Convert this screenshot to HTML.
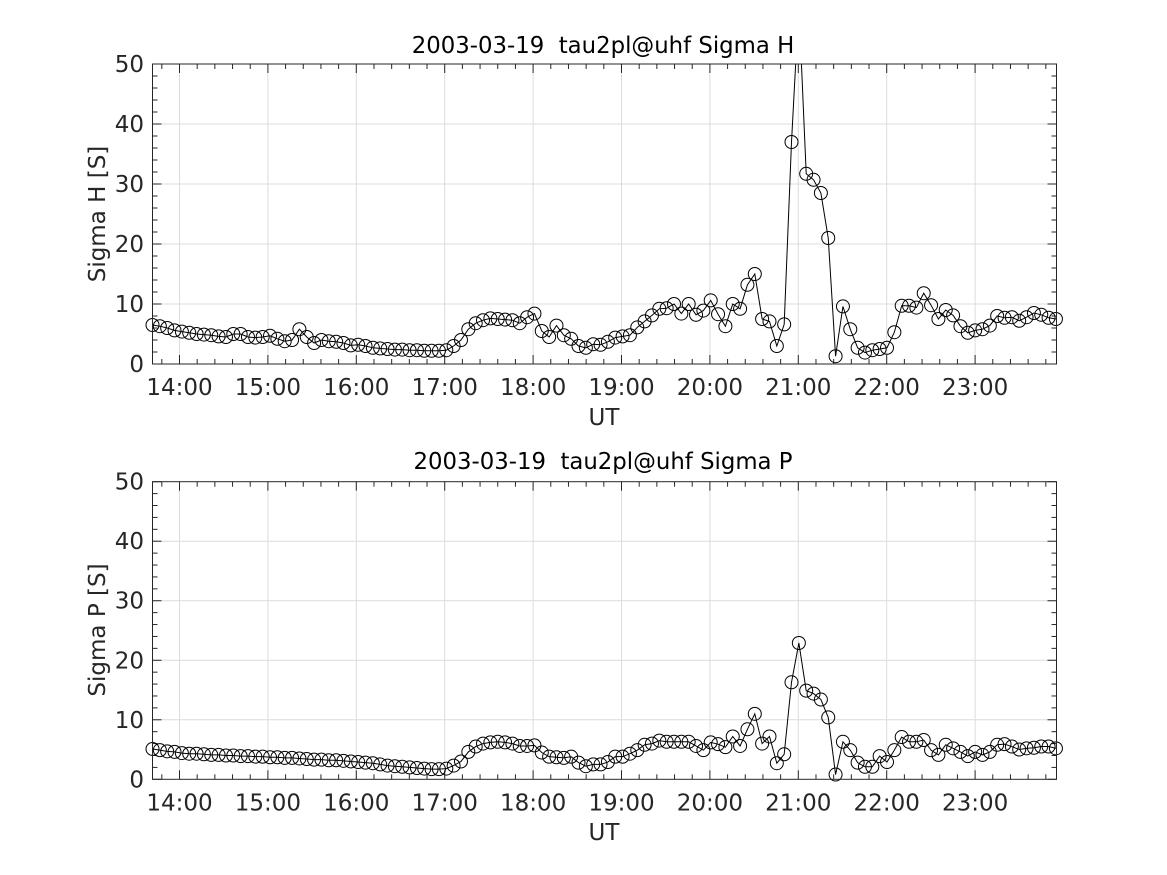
<!DOCTYPE html>
<html><head><meta charset="utf-8">
<style>
html,body{margin:0;padding:0;background:#fff;}
svg{display:block;font-family:"DejaVu Sans","Liberation Sans",sans-serif;}
text{white-space:pre;}
</style></head>
<body>
<svg id="s" width="1167" height="875" viewBox="0 0 1167 875" xmlns="http://www.w3.org/2000/svg" xml:space="preserve">
<rect width="1167" height="875" fill="#fff"/>
<text x="603" y="53" font-size="22.8" text-anchor="middle" fill="#000">2003-03-19  tau2pl@uhf Sigma H</text>
<text x="603" y="469" font-size="22.8" text-anchor="middle" fill="#000">2003-03-19  tau2pl@uhf Sigma P</text>
<text x="604" y="425" font-size="23" text-anchor="middle" fill="#262626">UT</text>
<text x="604" y="840" font-size="23" text-anchor="middle" fill="#262626">UT</text>
<text transform="translate(105,214) rotate(-90)" font-size="23" text-anchor="middle" fill="#262626">Sigma H [S]</text>
<text transform="translate(105,630) rotate(-90)" font-size="23" text-anchor="middle" fill="#262626">Sigma P [S]</text>
<g id="g"></g>
</svg>
<script>
var H=[6.5,6.3,6.0,5.6,5.4,5.2,5.0,4.9,4.8,4.6,4.5,5.0,5.0,4.5,4.4,4.5,4.7,4.2,3.8,4.0,5.8,4.5,3.5,4.0,3.8,3.7,3.5,3.1,3.2,3.0,2.7,2.6,2.5,2.4,2.4,2.3,2.3,2.2,2.2,2.2,2.3,3.0,4.0,5.8,6.8,7.3,7.6,7.5,7.4,7.3,6.8,7.8,8.4,5.5,4.5,6.4,4.8,4.2,3.0,2.7,3.3,3.2,3.7,4.4,4.6,4.8,6.1,7.1,8.1,9.2,9.3,10.0,8.4,10.0,8.2,8.9,10.6,8.3,6.3,10.0,9.2,13.2,15.0,7.5,7.1,3.0,6.6,37.0,60,31.7,30.7,28.5,21.0,1.3,9.6,5.8,2.7,1.9,2.3,2.5,2.7,5.3,9.7,9.7,9.4,11.8,9.8,7.5,9.0,8.1,6.3,5.2,5.6,5.8,6.4,8.0,7.7,7.8,7.2,7.8,8.5,8.2,7.7,7.5];
var P=[5.1,4.9,4.7,4.6,4.4,4.3,4.3,4.2,4.1,4.1,4.0,4.0,3.9,3.9,3.8,3.8,3.7,3.7,3.6,3.6,3.5,3.4,3.3,3.3,3.2,3.2,3.1,3.0,2.9,2.8,2.7,2.5,2.3,2.2,2.1,2.0,1.9,1.8,1.7,1.7,1.8,
2.3,3.0,4.6,5.5,6.0,6.2,6.3,6.2,6.0,5.6,5.6,5.7,4.5,3.8,3.7,3.6,3.8,2.8,2.2,
2.5,2.5,2.9,3.8,3.8,4.3,4.9,5.8,6.0,6.5,6.3,6.3,6.3,6.3,5.6,4.9,6.2,5.9,5.4,7.2,5.6,8.4,11.0,6.0,7.2,2.7,4.2,16.3,22.9,14.9,14.4,13.4,10.4,0.8,6.3,4.9,2.8,2.1,2.1,3.9,2.9,4.9,7.1,6.3,6.3,6.6,4.9,4.1,5.8,5.2,4.6,3.9,4.6,4.1,4.6,5.8,5.9,5.5,5.0,5.2,5.3,5.5,5.5,5.2];
var L=152.5,R=1056.5;
function tx(m){return 179.5+88.4*m/60;}
var out='';
function panel(top,bot,data,id){
  var sc=(bot-top)/50;
  function ty(v){return bot-v*sc;}
  out+='<defs><clipPath id="c'+id+'"><rect x="'+L+'" y="'+top+'" width="'+(R-L)+'" height="'+(bot-top)+'"/></clipPath></defs>';
  for(var h=0;h<10;h++){var x=tx(h*60);out+='<line x1="'+x+'" y1="'+top+'" x2="'+x+'" y2="'+bot+'" stroke="#dcdcdc" stroke-width="1"/>';}
  for(var v=10;v<50;v+=10){var y=ty(v);out+='<line x1="'+L+'" y1="'+y+'" x2="'+R+'" y2="'+y+'" stroke="#dcdcdc" stroke-width="1"/>';}
  for(var m=-12;m<=600;m+=12){var x=tx(m);if(x<L-0.5||x>R+0.5)continue;var len=(m%60==0)?9:5;
    out+='<line x1="'+x+'" y1="'+bot+'" x2="'+x+'" y2="'+(bot-len)+'" stroke="#262626"/>';
    out+='<line x1="'+x+'" y1="'+top+'" x2="'+x+'" y2="'+(top+len)+'" stroke="#262626"/>';}
  for(var v=0;v<=50;v+=2){var y=ty(v);var len=(v%10==0)?9:5;
    out+='<line x1="'+L+'" y1="'+y+'" x2="'+(L+len)+'" y2="'+y+'" stroke="#262626"/>';
    out+='<line x1="'+R+'" y1="'+y+'" x2="'+(R-len)+'" y2="'+y+'" stroke="#262626"/>';}
  for(var h=0;h<10;h++){out+='<text x="'+tx(h*60)+'" y="'+(bot+31)+'" font-size="23" text-anchor="middle" fill="#262626">'+(14+h)+':00</text>';}
  for(var v=0;v<=50;v+=10){out+='<text x="144" y="'+(ty(v)+8)+'" font-size="23" text-anchor="end" fill="#262626">'+v+'</text>';}
  var pts=[];for(var i=0;i<data.length;i++){pts.push((L+i*7.345).toFixed(2)+','+ty(data[i]).toFixed(2));}
  out+='<polyline clip-path="url(#c'+id+')" points="'+pts.join(' ')+'" fill="none" stroke="#000" stroke-width="1"/>';
  for(var i=0;i<data.length;i++){if(data[i]>50)continue;out+='<circle cx="'+(L+i*7.345).toFixed(2)+'" cy="'+ty(data[i]).toFixed(2)+'" r="6.5" fill="none" stroke="#000" stroke-width="1"/>';}
  out+='<rect x="'+L+'" y="'+top+'" width="'+(R-L)+'" height="'+(bot-top)+'" fill="none" stroke="#262626" stroke-width="1"/>';
}
panel(64,364,H,1);
panel(481.7,779.3,P,2);
document.getElementById('g').innerHTML=out;
</script>
</body></html>
